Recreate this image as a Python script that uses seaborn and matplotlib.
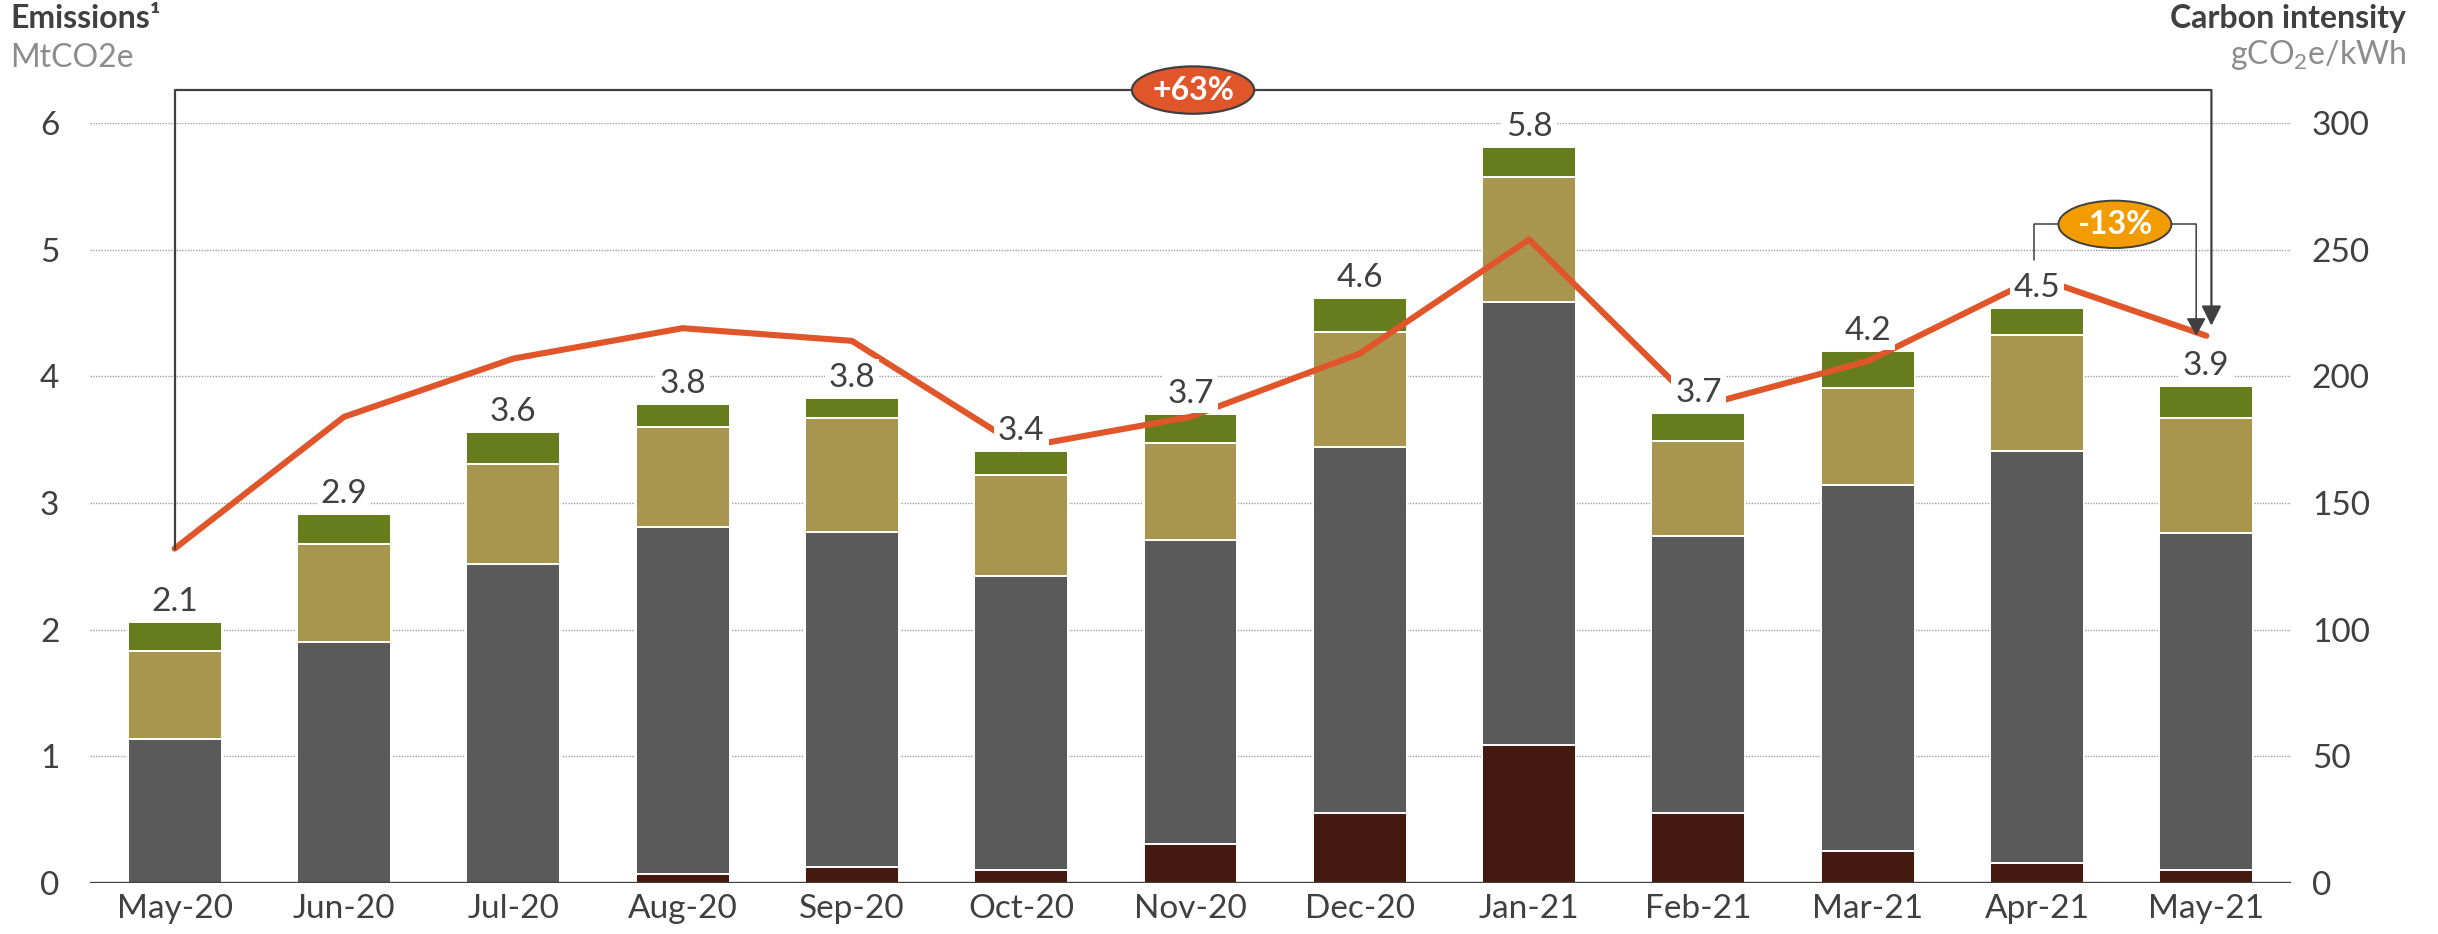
import numpy as np
import matplotlib
matplotlib.use("Agg")
import matplotlib.pyplot as plt
import seaborn as sns

# Monthly emissions by source (MtCO2e) and grid carbon intensity (gCO2e/kWh)
months = ["May-20", "Jun-20", "Jul-20", "Aug-20", "Sep-20", "Oct-20", "Nov-20",
          "Dec-20", "Jan-21", "Feb-21", "Mar-21", "Apr-21", "May-21"]
seg_dark = [0.00, 0.00, 0.00, 0.07, 0.13, 0.10, 0.31, 0.55, 1.09, 0.55, 0.25, 0.16, 0.10]
seg_grey = [1.14, 1.90, 2.52, 2.74, 2.64, 2.32, 2.40, 2.89, 3.50, 2.19, 2.89, 3.25, 2.66]
seg_khaki = [0.69, 0.78, 0.79, 0.79, 0.90, 0.80, 0.76, 0.91, 0.98, 0.75, 0.77, 0.92, 0.91]
seg_green = [0.23, 0.23, 0.25, 0.18, 0.16, 0.19, 0.23, 0.27, 0.24, 0.22, 0.29, 0.21, 0.25]
intensity = [132, 184, 207, 219, 214, 172, 184, 209, 254, 188, 206, 239, 216]

seg_colors = ["#441a10", "#5a5a5a", "#a8964f", "#677c1c"]
line_color = "#e0562a"
text_dark = "#404040"
text_grey = "#8c8c8c"

sns.set_theme(style="white")
plt.rcParams["font.family"] = ["Lato", "DejaVu Sans"]
plt.rcParams["mathtext.default"] = "regular"

fig = plt.figure(figsize=(24.38, 9.34), dpi=100)
ax = fig.add_axes([90 / 2438, 1 - 883 / 934, (2291 - 90) / 2438, (883 - 123) / 934])

# stacked bars: draw cumulative totals, tallest first
tops = np.cumsum([seg_dark, seg_grey, seg_khaki, seg_green], axis=0)
for top, col in reversed(list(zip(tops, seg_colors))):
    sns.barplot(x=months, y=top, color=col, saturation=1, width=0.555,
                edgecolor="white", linewidth=1.4, ax=ax)
totals = tops[-1]

ax.set_xlim(-0.5, 12.5)
ax.set_ylim(0, 6)
ax.set_yticks(range(0, 7))
ax.set_axisbelow(True)
ax.yaxis.grid(True, color="#a0a0a0", linestyle=(0, (1, 1)), linewidth=1)
ax.axhline(0, color=text_dark, lw=2.4, zorder=3)
for s in ax.spines.values():
    s.set_visible(False)
ax.set_xlabel("")
ax.set_ylabel("")
ax.tick_params(axis="y", length=0, pad=22, labelsize=24, labelcolor=text_dark)
ax.tick_params(axis="x", length=0, pad=8, labelsize=24, labelcolor=text_dark)

# carbon intensity line on right axis
ax2 = ax.twinx()
sns.lineplot(x=np.arange(len(months)), y=intensity, color=line_color, lw=4.4,
             solid_capstyle="round", ax=ax2, zorder=2)
ax2.set_ylim(0, 300)
ax2.set_yticks(range(0, 301, 50))
ax2.set_xlim(-0.5, 12.5)
ax2.set_ylabel("")
for s in ax2.spines.values():
    s.set_visible(False)
ax2.tick_params(axis="y", length=0, pad=15, labelsize=24, labelcolor=text_dark)

# total labels with white boxes (cut through line and grid)
for i, t in enumerate(totals):
    ax2.annotate(f"{t:.1f}", xy=(i, t), xycoords=ax.transData, xytext=(0, 8),
                 textcoords="offset points", ha="center", va="baseline",
                 fontsize=24, color=text_dark, zorder=6,
                 bbox=dict(boxstyle="square,pad=0.12", fc="white", ec="none"))

# +63% bracket (carbon intensity May-20 -> May-21)
top_y = 313
rx = 12.03
ax2.plot([0, 0, rx], [intensity[0], top_y, top_y], color=text_dark, lw=1.6,
         clip_on=False, zorder=7)
ax2.annotate("", xy=(rx, intensity[-1] + 4), xytext=(rx, top_y),
             arrowprops=dict(arrowstyle="-|>,head_length=0.6,head_width=0.3",
                             color=text_dark, lw=1.6, shrinkA=0, shrinkB=0,
                             mutation_scale=20), zorder=7, annotation_clip=False)
ax2.text((0 + rx) / 2, top_y, "+63%", ha="center", va="center", fontsize=23,
         fontweight="bold", color="white", zorder=8,
         bbox=dict(boxstyle="ellipse,pad=0.07", fc=line_color, ec=text_dark, lw=1.6))

# -13% bracket (emissions Apr-21 -> May-21)
lx, rx2 = 10.98, 11.94
y_lo, y_top = 246, 260
ax2.plot([lx, lx, rx2], [y_lo, y_top, y_top], color=text_dark, lw=1.1,
         clip_on=False, zorder=7)
ax2.annotate("", xy=(rx2, intensity[-1]), xytext=(rx2, y_top),
             arrowprops=dict(arrowstyle="-|>,head_length=0.55,head_width=0.3",
                             color=text_dark, lw=1.1, shrinkA=0, shrinkB=0,
                             mutation_scale=20), zorder=7, annotation_clip=False)
ax2.text((lx + rx2) / 2, y_top, "-13%", ha="center", va="center", fontsize=23,
         fontweight="bold", color="white", zorder=8,
         bbox=dict(boxstyle="ellipse,pad=0.07", fc="#f39c00", ec=text_dark, lw=1.4))

# axis headers
fig.text(10 / 2438, 1 - 28 / 934, "Emissions¹", fontsize=23, fontweight="bold",
         color=text_dark, ha="left", va="baseline")
fig.text(10 / 2438, 1 - 67 / 934, "MtCO2e", fontsize=23, color=text_grey,
         ha="left", va="baseline")
fig.text(2406 / 2438, 1 - 28 / 934, "Carbon intensity", fontsize=23, fontweight="bold",
         color=text_dark, ha="right", va="baseline")
fig.text(2406 / 2438, 1 - 64 / 934, r"gCO$_2$e/kWh", fontsize=23, color=text_grey,
         ha="right", va="baseline")

fig.savefig("out.png", dpi=100, facecolor="white")
